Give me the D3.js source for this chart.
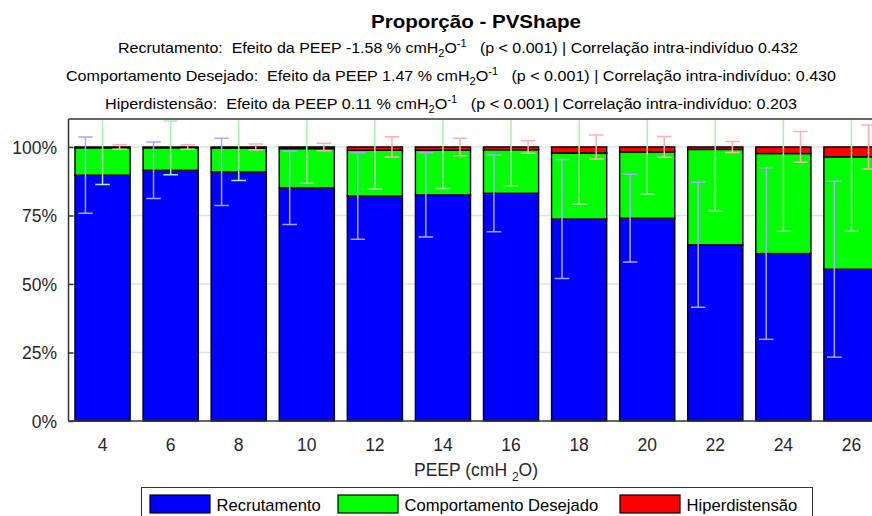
<!DOCTYPE html>
<html>
<head>
<meta charset="utf-8">
<script src="https://cdn.jsdelivr.net/npm/d3@7"></script>
<style>
  html, body { margin: 0; padding: 0; background: #fff; }
  svg { display: block; font-family: "Liberation Sans", Arial, Helvetica, sans-serif; }
</style>
</head>
<body>
<svg id="chart" width="872" height="516"></svg>
<script>
// PEEP steps (cmH2O)
const peep = ["4", "6", "8", "10", "12", "14", "16", "18", "20", "22", "24", "26"];

// mean proportion of each behaviour (%)
const recrutamento   = [89.7, 91.5, 90.9, 85.1, 82.1, 82.5, 83.1, 73.7, 74.0, 64.3, 61.1, 55.4];
const desejado       = [10.0, 8.2, 8.7, 14.3, 16.7, 16.4, 15.9, 24.1, 24.2, 34.8, 36.5, 41.0];
const hiperdistensao = [0.3, 0.3, 0.4, 0.6, 1.2, 1.1, 1.0, 2.2, 1.8, 0.9, 2.4, 3.6];

// standard deviation of each behaviour (%)
const sdRecrutamento   = [13.9, 10.3, 12.3, 13.4, 15.8, 15.4, 14.0, 21.7, 16.0, 22.8, 31.3, 32.1];
const sdDesejado       = [13.4, 9.8, 11.8, 12.6, 14.1, 14.1, 13.2, 18.7, 15.4, 22.6, 28.4, 27.2];
const sdHiperdistensao = [0.8, 0.8, 1.1, 1.35, 3.7, 3.2, 2.3, 4.4, 3.8, 2.0, 5.6, 8.0];

const seriesNames = ["Recrutamento", "Comportamento Desejado", "Hiperdistensão"];
const yTickValues = [0, 25, 50, 75, 100];
const yTickLabels = ["0%", "25%", "50%", "75%", "100%"];

const fills    = ["#0000ff", "#00ff00", "#ff0000"];
const errFills = ["#a8a8ff", "#a8f5a8", "#ffb0b0"];

const svg = d3.select("#chart");

const plot = { left: 68.5, right: 885.5, top: 119, bottom: 421 };

const x = d3.scaleBand()
  .domain(peep)
  .range([plot.left, plot.right])
  .paddingInner(0.19)
  .paddingOuter(0.095);

const y = d3.scaleLinear()
  .domain([0, 110.2])
  .range([plot.bottom, plot.top]);

// table for stacking
const rows = peep.map((p, i) => ({
  peep: p,
  [seriesNames[0]]: recrutamento[i],
  [seriesNames[1]]: desejado[i],
  [seriesNames[2]]: hiperdistensao[i]
}));
const stacked = d3.stack().keys(seriesNames)(rows);
const sds = [sdRecrutamento, sdDesejado, sdHiperdistensao];

svg.append("defs").append("clipPath").attr("id", "plotClip")
  .append("rect")
  .attr("x", plot.left).attr("y", plot.top)
  .attr("width", plot.right - plot.left).attr("height", plot.bottom - plot.top);

// horizontal grid
svg.append("g")
  .selectAll("line")
  .data(yTickValues.filter(v => v > 0))
  .join("line")
  .attr("x1", plot.left).attr("x2", plot.right)
  .attr("y1", d => y(d)).attr("y2", d => y(d))
  .attr("stroke", "#e2e2e2")
  .attr("stroke-width", 1.5);

// stacked bars
svg.append("g")
  .selectAll("g")
  .data(stacked)
  .join("g")
  .attr("fill", (d, i) => fills[i])
  .selectAll("rect")
  .data(d => d)
  .join("rect")
  .attr("x", d => x(d.data.peep))
  .attr("width", x.bandwidth())
  .attr("y", d => y(d[1]))
  .attr("height", d => y(d[0]) - y(d[1]))
  .attr("stroke", "#000")
  .attr("stroke-width", 1.4);

// error bars, centred on the cumulative top of each segment
const offsets = [-0.31, 0, 0.31];
const capHalf = 7.3;
const errG = svg.append("g").attr("clip-path", "url(#plotClip)");
stacked.forEach((layer, k) => {
  const g = errG.append("g")
    .attr("stroke", errFills[k])
    .attr("stroke-width", 1.5);
  const cx = d => x(d.data.peep) + x.bandwidth() / 2 + offsets[k] * x.bandwidth();
  const pts = layer.map((d, i) => ({ d, sd: sds[k][i] }));
  g.selectAll("line.v").data(pts).join("line").attr("class", "v")
    .attr("x1", p => cx(p.d)).attr("x2", p => cx(p.d))
    .attr("y1", p => y(p.d[1] + p.sd)).attr("y2", p => y(p.d[1] - p.sd));
  g.selectAll("line.t").data(pts).join("line").attr("class", "t")
    .attr("x1", p => cx(p.d) - capHalf).attr("x2", p => cx(p.d) + capHalf)
    .attr("y1", p => y(p.d[1] + p.sd)).attr("y2", p => y(p.d[1] + p.sd));
  g.selectAll("line.b").data(pts).join("line").attr("class", "b")
    .attr("x1", p => cx(p.d) - capHalf).attr("x2", p => cx(p.d) + capHalf)
    .attr("y1", p => y(p.d[1] - p.sd)).attr("y2", p => y(p.d[1] - p.sd));
});

// frame lines
const frame = svg.append("g").attr("stroke", "#333").attr("stroke-width", 1.5);
frame.append("line").attr("x1", plot.left).attr("x2", plot.right)
  .attr("y1", plot.top).attr("y2", plot.top);
frame.append("line").attr("x1", plot.left).attr("x2", plot.right)
  .attr("y1", plot.bottom).attr("y2", plot.bottom);
frame.append("line").attr("x1", plot.left).attr("x2", plot.left)
  .attr("y1", plot.top).attr("y2", plot.bottom);

// y axis
const yAxis = d3.axisLeft(y)
  .tickValues(yTickValues)
  .tickFormat((d, i) => yTickLabels[i])
  .tickSizeInner(-5)
  .tickSizeOuter(0)
  .tickPadding(11.5);
const yg = svg.append("g").attr("transform", `translate(${plot.left},0)`).call(yAxis);
yg.select(".domain").remove();
yg.selectAll(".tick line").attr("stroke", "#333").attr("stroke-width", 1.5);
yg.selectAll(".tick text")
  .attr("font-size", 17.5)
  .attr("fill", "#262626")
  .attr("font-family", "Liberation Sans, Arial, sans-serif")
  .attr("dy", "0.36em");

// x axis
const xAxis = d3.axisBottom(x).tickSize(0).tickPadding(17.5);
const xg = svg.append("g").attr("transform", `translate(0,${plot.bottom})`).call(xAxis);
xg.select(".domain").remove();
xg.selectAll(".tick text")
  .attr("font-size", 17.5)
  .attr("fill", "#262626")
  .attr("font-family", "Liberation Sans, Arial, sans-serif");

// x axis title
const xt = svg.append("text")
  .attr("x", 476).attr("y", 476)
  .attr("text-anchor", "middle")
  .attr("font-size", 17.5)
  .attr("fill", "#262626");
xt.append("tspan").text("PEEP (cmH ");
xt.append("tspan").attr("font-size", 12).attr("dy", 5).text("2");
xt.append("tspan").attr("dy", -5).text("O)");

// title block
svg.append("text")
  .attr("x", 371).attr("y", 28)
  .attr("font-size", 19)
  .attr("font-weight", "bold")
  .attr("fill", "#000")
  .attr("textLength", 210)
  .attr("lengthAdjust", "spacingAndGlyphs")
  .text("Proporção - PVShape");

const subtitles = [
  { x: 118, y: 53, w: 680, pre: "Recrutamento:  Efeito da PEEP -1.58 % cmH", post: "   (p < 0.001) | Correlação intra-indivíduo 0.432" },
  { x: 66,  y: 81, w: 770, pre: "Comportamento Desejado:  Efeito da PEEP 1.47 % cmH", post: "   (p < 0.001) | Correlação intra-indivíduo: 0.430" },
  { x: 105, y: 109, w: 692, pre: "Hiperdistensão:  Efeito da PEEP 0.11 % cmH", post: "   (p < 0.001) | Correlação intra-indivíduo: 0.203" }
];
subtitles.forEach(s => {
  const t = svg.append("text")
    .attr("x", s.x).attr("y", s.y)
    .attr("font-size", 14.5)
    .attr("fill", "#000")
    .attr("textLength", s.w)
    .attr("lengthAdjust", "spacingAndGlyphs")
    .style("white-space", "pre");
  t.append("tspan").text(s.pre);
  t.append("tspan").attr("font-size", 10).attr("dy", 4).text("2");
  t.append("tspan").attr("dy", -4).text("O");
  t.append("tspan").attr("font-size", 10).attr("dy", -6).text("-1");
  t.append("tspan").attr("dy", 6).text(s.post);
});

// legend
const legend = svg.append("g");
legend.append("rect")
  .attr("x", 141.5).attr("y", 487.5)
  .attr("width", 671).attr("height", 40)
  .attr("fill", "#fff")
  .attr("stroke", "#333")
  .attr("stroke-width", 1);
const legendX = [150, 338, 620];
seriesNames.forEach((name, i) => {
  legend.append("rect")
    .attr("x", legendX[i]).attr("y", 495)
    .attr("width", 60).attr("height", 18)
    .attr("fill", fills[i])
    .attr("stroke", "#000")
    .attr("stroke-width", 1.2);
  legend.append("text")
    .attr("x", legendX[i] + 66.5).attr("y", 511)
    .attr("font-size", 16.6)
    .attr("fill", "#000")
    .text(name);
});
</script>
</body>
</html>
